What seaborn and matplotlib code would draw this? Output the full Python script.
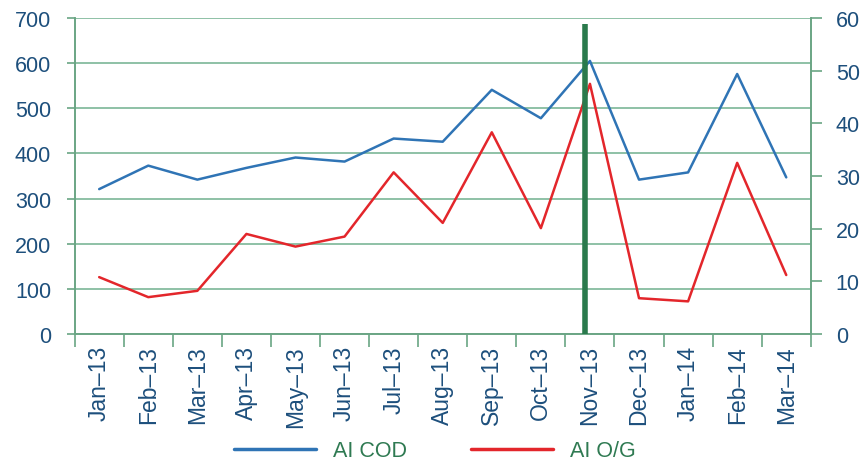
import matplotlib
matplotlib.use("Agg")
import matplotlib.pyplot as plt
import seaborn as sns
import pandas as pd
from matplotlib.lines import Line2D

months = ["Jan–13", "Feb–13", "Mar–13", "Apr–13", "May–13", "Jun–13", "Jul–13",
          "Aug–13", "Sep–13", "Oct–13", "Nov–13", "Dec–13", "Jan–14", "Feb–14", "Mar–14"]
ai_cod = [321, 373, 342, 368, 391, 382, 433, 426, 541, 478, 605, 342, 358, 576, 347]
ai_og = [10.8, 7.0, 8.2, 19.0, 16.6, 18.5, 30.7, 21.1, 38.3, 20.1, 47.5, 6.8, 6.2, 32.5, 11.2]
left_ticks = [0, 100, 200, 300, 400, 500, 600, 700]
right_ticks = [0, 10, 20, 30, 40, 50, 60]

sns.set_theme(style="white")
plt.rcParams["font.family"] = ["Liberation Sans", "DejaVu Sans"]

blue = "#2f74b5"
red = "#e3262b"
grid_green = "#7cb697"
spine_green = "#6aa584"
marker_green = "#2a7a4c"
label_blue = "#1d4f7c"
legend_green = "#2f7a52"

df = pd.DataFrame({"pos": range(len(months)), "month": months,
                   "cod": ai_cod, "og": ai_og})

fig = plt.figure(figsize=(8.63, 4.64), dpi=100)
ax = fig.add_axes([0.0865, 0.278, 0.853, 0.681])
ax2 = ax.twinx()

sns.lineplot(data=df, x="pos", y="cod", ax=ax, color=blue, linewidth=1.8)
sns.lineplot(data=df, x="pos", y="og", ax=ax2, color=red, linewidth=1.8)

ax.set_xlim(-0.5, len(months) - 0.5)
ax.set_ylim(0, 700)
ax2.set_ylim(0, 60)

# horizontal grid on the left scale
for v in left_ticks:
    ax.axhline(v, color=grid_green, linewidth=1.2, zorder=0)

# event marker at November 2013
ax2.plot([9.9, 9.9], [0, 58.9], color=marker_green, linewidth=4, solid_capstyle="butt", zorder=5)

ax.set_yticks(left_ticks)
ax2.set_yticks(right_ticks)
ax.set_xticks([p - 0.5 for p in range(len(months) + 1)], minor=False)
ax.set_xticklabels([])
ax.set_xticks(list(range(len(months))), minor=True)
ax.set_xticklabels(months, minor=True, rotation=90)

ax.tick_params(axis="x", which="major", direction="out", length=9, width=1.2,
               color=spine_green, bottom=True)
ax.tick_params(axis="x", which="minor", length=0, pad=8, labelsize=16.5,
               labelcolor=label_blue)
ax.tick_params(axis="y", direction="out", length=6, width=1.2, color=spine_green,
               left=True, labelsize=15.5, labelcolor=label_blue, pad=11)
ax2.tick_params(axis="y", direction="out", length=8, width=1.2, color=spine_green,
                right=True, labelsize=15.5, labelcolor=label_blue, pad=10)

for a in (ax, ax2):
    a.set_xlabel("")
    a.set_ylabel("")
    a.spines["top"].set_visible(False)
    for s in ("left", "right", "bottom"):
        a.spines[s].set_color(spine_green)
        a.spines[s].set_linewidth(1.2)
    a.grid(False)

handles = [Line2D([0], [0], color=blue, linewidth=2.5),
           Line2D([0], [0], color=red, linewidth=2.5)]
leg = fig.legend(handles, ["AI COD", "AI O/G"], loc="center", bbox_to_anchor=(0.504, 0.026),
                 ncol=2, frameon=False, fontsize=15.5, handlelength=3.8,
                 columnspacing=3.0, handletextpad=0.8, borderaxespad=0, borderpad=0)
for t in leg.get_texts():
    t.set_color(legend_green)

fig.savefig("out.png", dpi=100)
